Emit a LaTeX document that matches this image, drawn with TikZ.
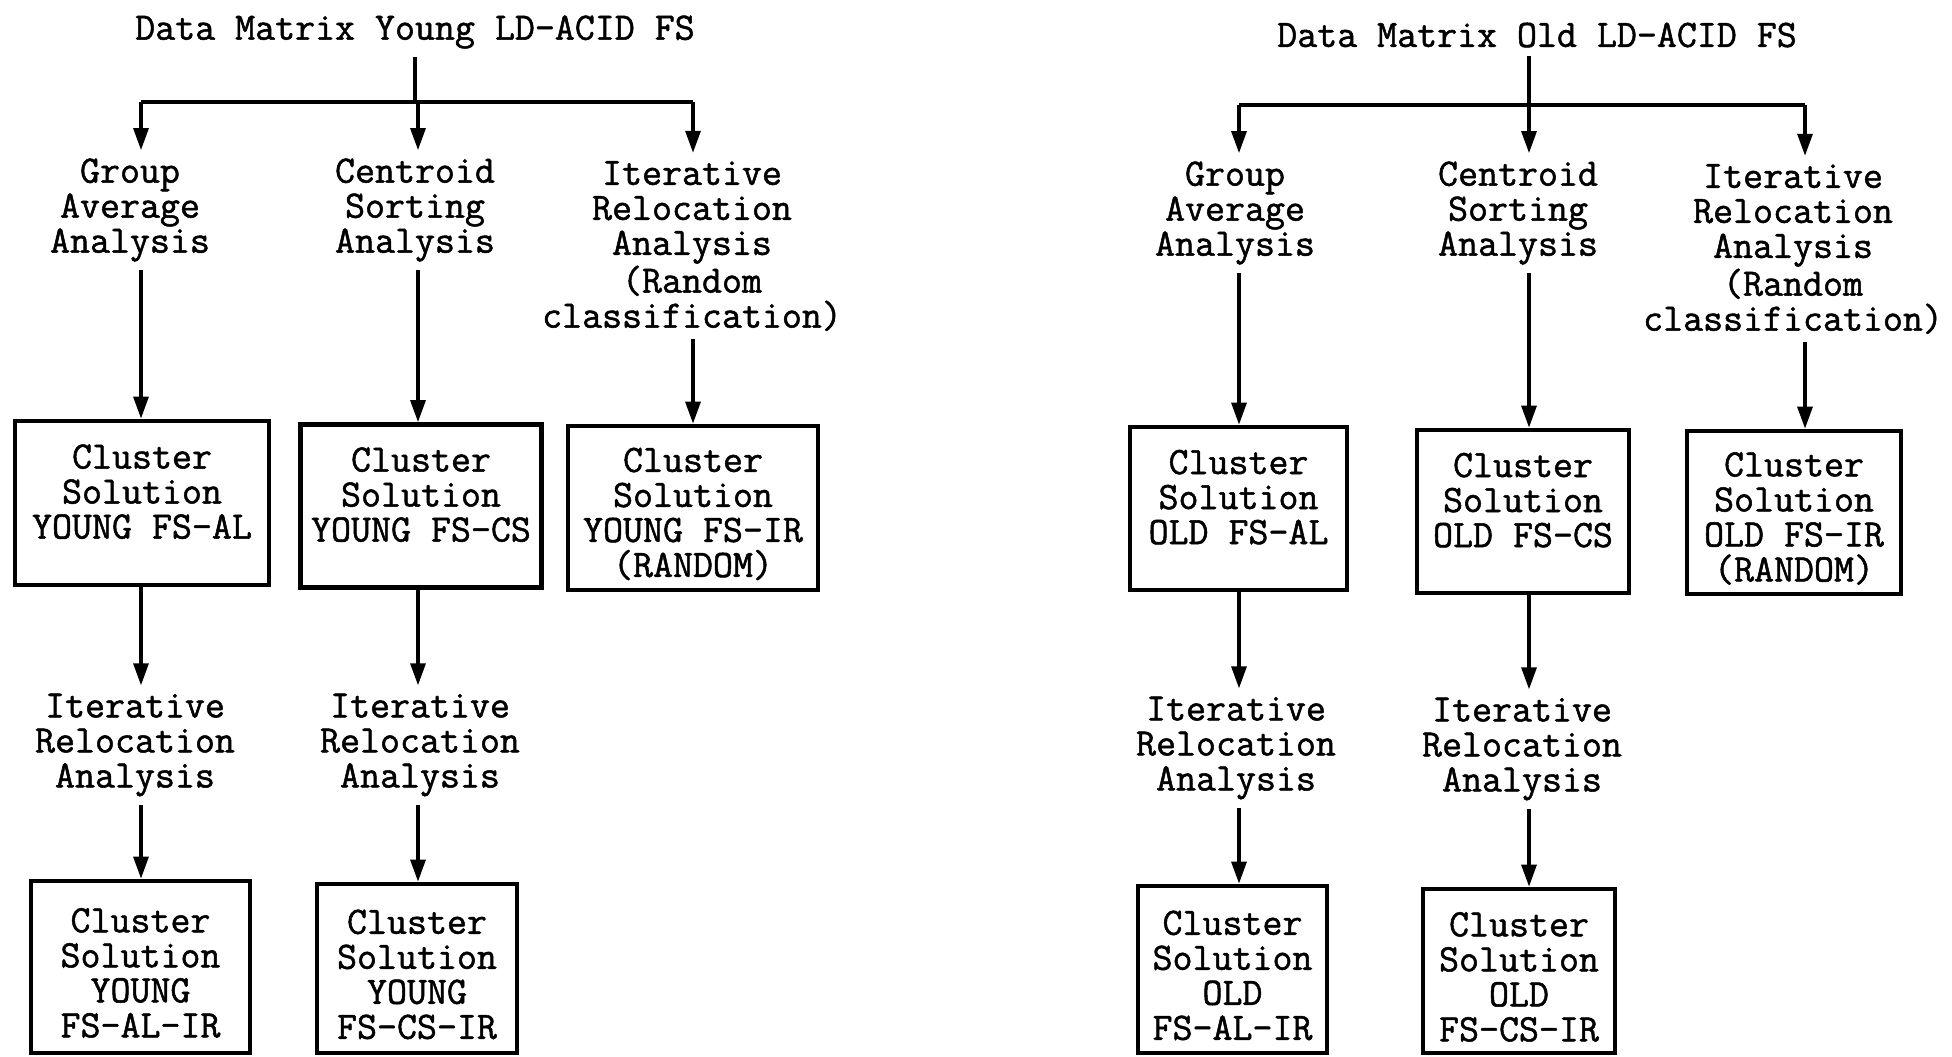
\documentclass[tikz,border=0pt]{standalone}
\usepackage{fontspec}
\usetikzlibrary{arrows.meta}
% slightly heavier typewriter face
\newfontfamily\typewriter[RawFeature={embolden=1.3}]{Latin Modern Mono}
% extra room above the first line of a solution box
\newcommand\boxtopstrut{\rule{0pt}{18pt}}
\begin{document}
\begin{tikzpicture}[x=0.5pt,y=-0.5pt,
  every node/.style={font=\fontsize{19.4pt}{17.5pt}\selectfont\typewriter,
                     align=center, inner sep=4pt},
  solbox/.style={draw, line width=2.4pt, inner sep=0pt},
  wh/.style 2 args={minimum width=#1*0.5pt, minimum height=#2*0.5pt},
  link/.style={line width=1.6pt},
  arr/.style={link, -{Triangle[length=11pt,width=7.5pt]}}]
\useasboundingbox[fill=white] (0,0) rectangle (1952,1056);
\clip (0,0) rectangle (1952,1056);

% ---------- young data matrix ----------
\node (t1) at (415,32) {Data Matrix Young LD-ACID FS};
\coordinate (cA) at (141,102);
\coordinate (cB) at (418,102);
\coordinate (cC) at (693,102);

\node (ga1) at (130,210) {Group\\Average\\Analysis};
\node (cs1) at (415,210) {Centroid\\Sorting\\Analysis};
\node (ir1) at (692,246) {Iterative\\Relocation\\Analysis\\(Random\\classification)};

\node[solbox, wh={254}{164}] (b1) at (142,503) {\boxtopstrut Cluster\\Solution\\YOUNG FS-AL\\\mbox{}};
\node[solbox, wh={241}{163}] (b2) at (421,506) {\boxtopstrut Cluster\\Solution\\YOUNG FS-CS\\\mbox{}};
\node[solbox, wh={250}{164}] (b3) at (693,508) {\boxtopstrut Cluster\\Solution\\YOUNG FS-IR\\(RANDOM)};

\node (il1) at (135,745) {Iterative\\Relocation\\Analysis};
\node (il2) at (420,745) {Iterative\\Relocation\\Analysis};

\node[solbox, wh={219}{172}] (b4) at (140.5,967) {\boxtopstrut Cluster\\Solution\\YOUNG\\FS-AL-IR};
\node[solbox, wh={200}{169}] (b5) at (417,968.5) {\boxtopstrut Cluster\\Solution\\YOUNG\\FS-CS-IR};

\draw[link] (t1.south) -- (t1.south |- cA);
\draw[link] (cA) -- (cC);
\draw[arr] (cA) -- (cA |- ga1.north);
\draw[arr] (cB) -- (cB |- cs1.north);
\draw[arr] (cC) -- (cC |- ir1.north);
\draw[arr] (ga1.south -| cA) -- (b1.north -| cA);
\draw[arr] (cs1.south -| cB) -- (b2.north -| cB);
\draw[arr] (ir1.south -| cC) -- (b3.north -| cC);
\draw[arr] (b1.south -| cA) -- (il1.north -| cA);
\draw[arr] (b2.south -| cB) -- (il2.north -| cB);
\draw[arr] (il1.south -| cA) -- (b4.north -| cA);
\draw[arr] (il2.south -| cB) -- (b5.north -| cB);

% ---------- old data matrix ----------
\node (t2) at (1537,35) {Data Matrix Old LD-ACID FS};
\coordinate (cD) at (1239,105);
\coordinate (cE) at (1529,105);
\coordinate (cF) at (1805,105);

\node (ga2) at (1235,213) {Group\\Average\\Analysis};
\node (cs2) at (1518,213) {Centroid\\Sorting\\Analysis};
\node (ir2) at (1793,249) {Iterative\\Relocation\\Analysis\\(Random\\classification)};

\node[solbox, wh={217}{163}] (b6) at (1238.5,508.5) {\boxtopstrut Cluster\\Solution\\OLD FS-AL\\\mbox{}};
\node[solbox, wh={212}{163}] (b7) at (1523,511.5) {\boxtopstrut Cluster\\Solution\\OLD FS-CS\\\mbox{}};
\node[solbox, wh={214}{163}] (b8) at (1794,512.5) {\boxtopstrut Cluster\\Solution\\OLD FS-IR\\(RANDOM)};

\node (il3) at (1236,748) {Iterative\\Relocation\\Analysis};
\node (il4) at (1522,749) {Iterative\\Relocation\\Analysis};

\node[solbox, wh={189}{167}] (b9) at (1232.5,969.5) {\boxtopstrut Cluster\\Solution\\OLD\\FS-AL-IR};
\node[solbox, wh={192}{164}] (b10) at (1519,971) {\boxtopstrut Cluster\\Solution\\OLD\\FS-CS-IR};

\draw[link] (t2.south -| cE) -- (cE);
\draw[link] (cD) -- (cF);
\draw[arr] (cD) -- (cD |- ga2.north);
\draw[arr] (cE) -- (cE |- cs2.north);
\draw[arr] (cF) -- (cF |- ir2.north);
\draw[arr] (ga2.south -| cD) -- (b6.north -| cD);
\draw[arr] (cs2.south -| cE) -- (b7.north -| cE);
\draw[arr] (ir2.south -| cF) -- (b8.north -| cF);
\draw[arr] (b6.south -| cD) -- (il3.north -| cD);
\draw[arr] (b7.south -| cE) -- (il4.north -| cE);
\draw[arr] (il3.south -| cD) -- (b9.north -| cD);
\draw[arr] (il4.south -| cE) -- (b10.north -| cE);
\end{tikzpicture}
\end{document}
